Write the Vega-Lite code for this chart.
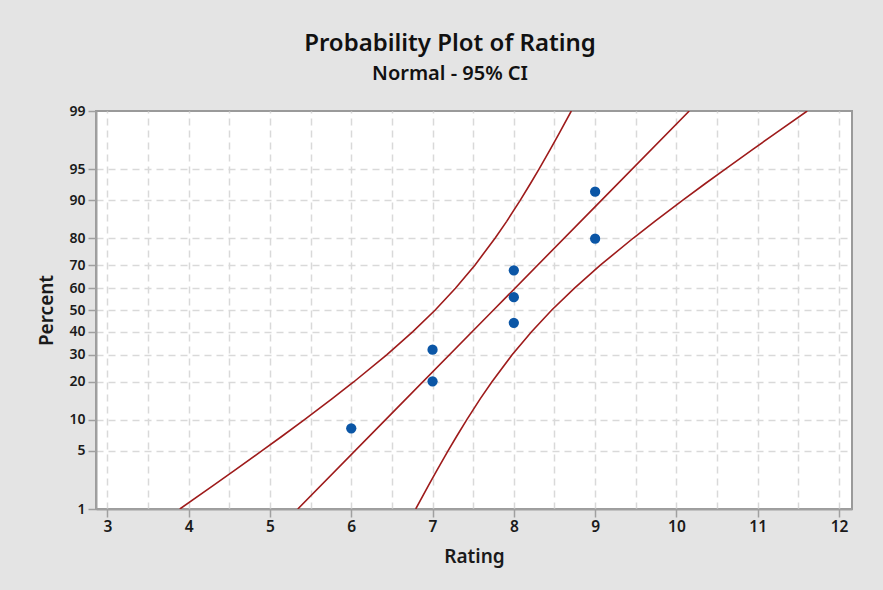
{
  "$schema": "https://vega.github.io/schema/vega-lite/v6.json",
  "width": 756,
  "height": 398,
  "autosize": {"type": "none"},
  "padding": {"left": 96, "top": 111, "right": 31, "bottom": 81},
  "background": "#e4e4e4",
  "title": {
    "text": "Probability Plot of Rating",
    "subtitle": "Normal - 95% CI",
    "anchor": "middle",
    "dx": -24,
    "offset": 20,
    "font": "Noto Sans",
    "fontSize": 24,
    "fontWeight": 600,
    "color": "#111111",
    "subtitleFont": "Noto Sans",
    "subtitleFontSize": 20,
    "subtitleFontWeight": 600,
    "subtitleColor": "#111111",
    "subtitlePadding": 8
  },
  "config": {
    "view": {"stroke": "#9a9a9a", "strokeWidth": 2, "fill": "white"},
    "axis": {
      "domainColor": "#a0a0a0",
      "domainWidth": 2,
      "tickColor": "#a0a0a0",
      "tickWidth": 1.5,
      "tickSize": 8,
      "labelFont": "Noto Sans",
      "labelFontSize": 14,
      "labelFontWeight": 600,
      "labelColor": "#1a1a1a",
      "titleFont": "Noto Sans",
      "titleFontSize": 19,
      "titleFontWeight": 600,
      "titleColor": "#1a1a1a",
      "gridColor": "#d9d9d9",
      "gridDash": [7, 5],
      "gridWidth": 1.5
    }
  },
  "datasets": {
    "curves": [
      {"series": "lower", "percent": 1, "rating": 3.891},
      {"series": "lower", "percent": 2, "rating": 4.300},
      {"series": "lower", "percent": 3, "rating": 4.556},
      {"series": "lower", "percent": 5, "rating": 4.903},
      {"series": "lower", "percent": 7, "rating": 5.148},
      {"series": "lower", "percent": 10, "rating": 5.425},
      {"series": "lower", "percent": 15, "rating": 5.766},
      {"series": "lower", "percent": 20, "rating": 6.029},
      {"series": "lower", "percent": 30, "rating": 6.436},
      {"series": "lower", "percent": 40, "rating": 6.758},
      {"series": "lower", "percent": 50, "rating": 7.033},
      {"series": "lower", "percent": 60, "rating": 7.282},
      {"series": "lower", "percent": 70, "rating": 7.521},
      {"series": "lower", "percent": 80, "rating": 7.771},
      {"series": "lower", "percent": 85, "rating": 7.912},
      {"series": "lower", "percent": 90, "rating": 8.078},
      {"series": "lower", "percent": 93, "rating": 8.203},
      {"series": "lower", "percent": 95, "rating": 8.308},
      {"series": "lower", "percent": 97, "rating": 8.450},
      {"series": "lower", "percent": 98, "rating": 8.551},
      {"series": "lower", "percent": 99, "rating": 8.707},
      {"series": "fit", "percent": 1, "rating": 5.342},
      {"series": "fit", "percent": 10, "rating": 6.423},
      {"series": "fit", "percent": 50, "rating": 7.75},
      {"series": "fit", "percent": 90, "rating": 9.077},
      {"series": "fit", "percent": 99, "rating": 10.158},
      {"series": "upper", "percent": 1, "rating": 6.793},
      {"series": "upper", "percent": 2, "rating": 6.949},
      {"series": "upper", "percent": 3, "rating": 7.050},
      {"series": "upper", "percent": 5, "rating": 7.192},
      {"series": "upper", "percent": 7, "rating": 7.297},
      {"series": "upper", "percent": 10, "rating": 7.422},
      {"series": "upper", "percent": 15, "rating": 7.588},
      {"series": "upper", "percent": 20, "rating": 7.729},
      {"series": "upper", "percent": 30, "rating": 7.979},
      {"series": "upper", "percent": 40, "rating": 8.218},
      {"series": "upper", "percent": 50, "rating": 8.467},
      {"series": "upper", "percent": 60, "rating": 8.743},
      {"series": "upper", "percent": 70, "rating": 9.064},
      {"series": "upper", "percent": 80, "rating": 9.471},
      {"series": "upper", "percent": 85, "rating": 9.734},
      {"series": "upper", "percent": 90, "rating": 10.075},
      {"series": "upper", "percent": 93, "rating": 10.352},
      {"series": "upper", "percent": 95, "rating": 10.597},
      {"series": "upper", "percent": 97, "rating": 10.944},
      {"series": "upper", "percent": 98, "rating": 11.200},
      {"series": "upper", "percent": 99, "rating": 11.609}
    ],
    "points": [
      {"rating": 6, "percent": 8.33},
      {"rating": 7, "percent": 20.24},
      {"rating": 7, "percent": 32.14},
      {"rating": 8, "percent": 44.05},
      {"rating": 8, "percent": 55.95},
      {"rating": 8, "percent": 67.86},
      {"rating": 9, "percent": 79.76},
      {"rating": 9, "percent": 91.67}
    ]
  },
  "resolve": {"axis": {"x": "independent"}},
  "layer": [
    {
      "data": {"name": "curves"},
      "transform": [{"calculate": "quantileNormal(datum.percent / 100)", "as": "z"}],
      "mark": {"type": "line", "color": "#9e1b1b", "strokeWidth": 1.6, "clip": true},
      "encoding": {
        "x": {
          "field": "rating",
          "type": "quantitative",
          "scale": {"domain": [2.86, 12.16], "nice": false, "zero": false},
          "axis": {
            "orient": "top",
            "values": [3, 3.5, 4, 4.5, 5, 5.5, 6, 6.5, 7, 7.5, 8, 8.5, 9, 9.5, 10, 10.5, 11, 11.5, 12],
            "grid": true,
            "labels": false,
            "ticks": false,
            "domain": false,
            "title": null
          }
        },
        "y": {
          "field": "z",
          "type": "quantitative",
          "scale": {"domain": [-2.326348, 2.326348], "nice": false, "zero": false},
          "axis": {
            "values": [-2.326348, -1.644854, -1.281552, -0.841621, -0.524401, -0.253347, 0, 0.253347, 0.524401, 0.841621, 1.281552, 1.644854, 2.326348],
            "labelExpr": "format(round(cumulativeNormal(datum.value) * 100), 'd')",
            "grid": true,
            "gridOpacity": {"condition": {"test": "abs(datum.value) > 2.3", "value": 0}, "value": 1},
            "title": "Percent",
            "labelPadding": 3,
            "titlePadding": 12
          }
        },
        "detail": {"field": "series"},
        "order": {"field": "percent", "type": "quantitative"}
      }
    },
    {
      "data": {"name": "points"},
      "transform": [{"calculate": "quantileNormal(datum.percent / 100)", "as": "z"}],
      "mark": {"type": "circle", "size": 105, "color": "#0b56a6", "opacity": 1},
      "encoding": {
        "x": {
          "field": "rating",
          "type": "quantitative",
          "scale": {"domain": [2.86, 12.16], "nice": false, "zero": false},
          "axis": {
            "orient": "bottom",
            "values": [3, 4, 5, 6, 7, 8, 9, 10, 11, 12],
            "format": "d",
            "grid": false,
            "title": "Rating",
            "labelFontSize": 15.5,
            "labelPadding": 2,
            "titlePadding": 13
          }
        },
        "y": {
          "field": "z",
          "type": "quantitative",
          "scale": {"domain": [-2.326348, 2.326348], "nice": false, "zero": false},
          "axis": {
            "values": [-2.326348, -1.644854, -1.281552, -0.841621, -0.524401, -0.253347, 0, 0.253347, 0.524401, 0.841621, 1.281552, 1.644854, 2.326348],
            "labelExpr": "format(round(cumulativeNormal(datum.value) * 100), 'd')",
            "grid": true,
            "gridOpacity": {"condition": {"test": "abs(datum.value) > 2.3", "value": 0}, "value": 1},
            "title": "Percent",
            "labelPadding": 3,
            "titlePadding": 12
          }
        }
      }
    }
  ]
}
